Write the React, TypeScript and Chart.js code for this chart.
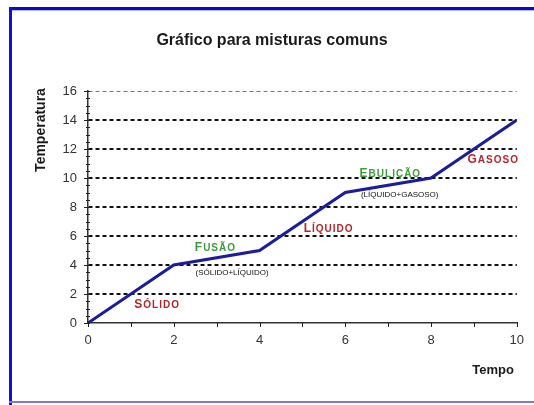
import React, { useEffect, useRef } from 'react';
import { Chart, registerables } from 'chart.js';

Chart.register(...registerables);

// ---- data ----
const tempo = [0, 2, 4, 6, 8, 10];
const temperatura = [0, 4, 5, 9, 10, 14];

const titulo = 'Gráfico para misturas comuns';
const tituloY = 'Temperatura';
const tituloX = 'Tempo';

// phase annotations (text, data-x, data-y, kind)
const fases = ['Sólido', 'Fusão', '(sólido+líquido)', 'Líquido', 'Ebulição', '(líquido+gasoso)', 'Gasoso'];
const faseX = [1.6, 2.96, 3.36, 5.6, 7.04, 7.27, 9.44];
const faseY = [1.3, 5.24, 3.5, 6.6, 10.4, 8.9, 11.3];
const faseTipo = ['estado', 'mudanca', 'mistura', 'estado', 'mudanca', 'mistura', 'estado'];

const FONT = '"Liberation Sans", Arial, sans-serif';
const RED = '#b3262c';
const GREEN = '#3f9a3c';
const LINE = '#1c1c9c';

function drawCaps(
  ctx: CanvasRenderingContext2D,
  text: string,
  cx: number,
  cy: number,
  big: number,
  small: number,
  spacing: number,
  weight: string,
  color: string
) {
  const parts: { ch: string; size: number; w: number }[] = [];
  for (const ch of text) {
    const isUpper = ch !== ch.toLowerCase();
    parts.push({ ch: ch.toUpperCase(), size: isUpper ? big : small, w: 0 });
  }
  let total = 0;
  for (const p of parts) {
    ctx.font = `${weight} ${p.size}px ${FONT}`;
    p.w = ctx.measureText(p.ch).width;
    total += p.w + spacing;
  }
  total -= spacing;
  let x = cx - total / 2;
  const base = cy + Math.max(big, small) * 0.36;
  ctx.fillStyle = color;
  ctx.textAlign = 'left';
  ctx.textBaseline = 'alphabetic';
  for (const p of parts) {
    ctx.font = `${weight} ${p.size}px ${FONT}`;
    ctx.fillText(p.ch, x, base);
    x += p.w + spacing;
  }
}

const decorPlugin = {
  id: 'decor',
  beforeDraw(chart: any) {
    const ctx: CanvasRenderingContext2D = chart.ctx;
    const { width, height } = chart;
    ctx.save();
    ctx.fillStyle = '#ffffff';
    ctx.fillRect(0, 0, width, height);
    // frame
    ctx.fillStyle = '#0a0ac8';
    ctx.fillRect(9, 7, width - 9, 3);
    ctx.fillStyle = '#b8b8f0';
    ctx.fillRect(12, 10, width - 12, 1);
    ctx.fillStyle = '#1010d8';
    ctx.fillRect(9, 7, 3, height - 7);
    ctx.fillStyle = '#7a7ad8';
    ctx.fillRect(9, 401, width - 9, 2);
    ctx.restore();
  },
  afterDraw(chart: any) {
    const ctx: CanvasRenderingContext2D = chart.ctx;
    const xs = chart.scales.x;
    const ys = chart.scales.y;
    const area = chart.chartArea;
    ctx.save();

    // minor ticks on y axis
    ctx.strokeStyle = '#222';
    ctx.lineWidth = 1;
    for (let v = ys.min; v <= ys.max + 1e-9; v += 0.5) {
      const y = Math.round(ys.getPixelForValue(v)) + 0.5;
      const major = Math.abs(v % 2) < 1e-9;
      ctx.beginPath();
      ctx.moveTo(area.left - (major ? 4 : 2), y);
      ctx.lineTo(area.left + 2, y);
      ctx.stroke();
    }
    // ticks on x axis
    for (let v = xs.min; v <= xs.max + 1e-9; v += 1) {
      const x = Math.round(xs.getPixelForValue(v)) + 0.5;
      ctx.beginPath();
      ctx.moveTo(x, area.bottom - 1);
      ctx.lineTo(x, area.bottom + 4);
      ctx.stroke();
    }

    // title
    ctx.fillStyle = '#1a1a1a';
    ctx.font = `bold 16px ${FONT}`;
    ctx.textAlign = 'center';
    ctx.textBaseline = 'middle';
    ctx.fillText(titulo, 272, 41);

    // axis titles
    ctx.font = `bold 13px ${FONT}`;
    ctx.fillText(tituloX, 493, 370);
    ctx.save();
    ctx.translate(41, 130);
    ctx.rotate(-Math.PI / 2);
    ctx.font = `bold 14px ${FONT}`;
    ctx.fillText(tituloY, 0, 0);
    ctx.restore();

    // phase labels
    for (let i = 0; i < fases.length; i++) {
      const px = xs.getPixelForValue(faseX[i]);
      const py = ys.getPixelForValue(faseY[i]);
      const tipo = faseTipo[i];
      if (tipo === 'mistura') {
        drawCaps(ctx, fases[i], px, py, 8, 8, 0, 'normal', '#111');
      } else {
        drawCaps(ctx, fases[i], px, py, 12, 10, 1, 'bold', tipo === 'estado' ? RED : GREEN);
      }
    }
    ctx.restore();
  },
};

export default function App() {
  const ref = useRef<HTMLCanvasElement | null>(null);
  useEffect(() => {
    if (!ref.current) return;
    const chart = new Chart(ref.current, {
      type: 'line',
      data: {
        datasets: [
          {
            data: tempo.map((t, i) => ({ x: t, y: temperatura[i] })),
            borderColor: LINE,
            borderWidth: 3,
            pointRadius: 0,
            tension: 0,
            fill: false,
          },
        ],
      },
      options: {
        animation: false,
        responsive: false,
        events: [],
        layout: { padding: { top: 91, right: 17, left: 0, bottom: 0 } },
        plugins: {
          legend: { display: false },
          title: { display: false },
          tooltip: { enabled: false },
        },
        scales: {
          x: {
            type: 'linear',
            min: 0,
            max: 10,
            afterFit: (s: any) => {
              s.height = 82;
            },
            ticks: {
              stepSize: 2,
              padding: 10,
              color: '#333',
              font: { family: FONT, size: 13 },
              maxRotation: 0,
            },
            grid: { display: false, drawTicks: false },
            border: { display: true, color: '#333', width: 1.5 },
          },
          y: {
            type: 'linear',
            min: 0,
            max: 16,
            afterFit: (s: any) => {
              s.width = 88;
            },
            ticks: {
              stepSize: 2,
              padding: 11,
              color: '#333',
              font: { family: FONT, size: 13 },
            },
            grid: {
              drawTicks: false,
              color: (c: any) =>
                c.tick && c.tick.value === 0 ? 'rgba(0,0,0,0)' : c.tick && c.tick.value === 16 ? '#777' : '#111',
              lineWidth: (c: any) => (c.tick && c.tick.value === 16 ? 1 : 2),
            },
            border: { display: true, color: '#333', width: 1.5, dash: [4, 3] },
          },
        },
      },
      plugins: [decorPlugin],
    });
    return () => chart.destroy();
  }, []);
  return (
    <div style={{ position: 'absolute', left: 0, top: 0, width: 534, height: 405 }}>
      <canvas ref={ref} width={534} height={405} />
    </div>
  );
}
